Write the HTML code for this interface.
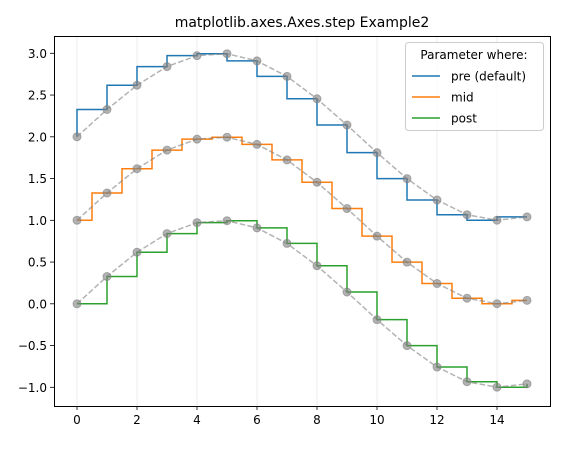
<!DOCTYPE html>
<html><head><meta charset="utf-8"><style>
body{margin:0;background:#fff}
svg{display:block;font-family:"DejaVu Sans","Liberation Sans",sans-serif}
</style></head><body>
<svg id="chart" width="581" height="449" xmlns="http://www.w3.org/2000/svg">
<rect width="581" height="449" fill="#fff"/>
<text x="302" y="27" font-size="14" text-anchor="middle">matplotlib.axes.Axes.step Example2</text>
<g id="grid"></g>
<g id="series"></g>
<rect x="54.5" y="36.5" width="496" height="370" fill="none" stroke="#000" stroke-width="1"/>
<g id="axes"></g>
<g id="legend"></g>
</svg>
<script>
const xValues=[0,1,2,3,4,5,6,7,8,9,10,11,12,13,14,15];
const baseValues=[0,0.327,0.618,0.841,0.972,0.995,0.909,0.723,0.455,0.141,-0.190,-0.501,-0.757,-0.933,-0.999,-0.959];
const seriesOffsets=[2,1,0];
const seriesLabels=["pre (default)","mid","post"];
const seriesWhere=["pre","mid","post"];
const xTicks=[0,2,4,6,8,10,12,14];
const yTicks=[-1.0,-0.5,0.0,0.5,1.0,1.5,2.0,2.5,3.0];
const colors=["#1f77b4","#ff7f0e","#2ca02c"];
const NS="http://www.w3.org/2000/svg";
const X=v=>77+v*30;
const Y=v=>53.3+(3-v)*83.5;
function mk(tag,attrs,parent){const e=document.createElementNS(NS,tag);for(const k in attrs)e.setAttribute(k,attrs[k]);parent.appendChild(e);return e;}
const grid=document.getElementById('grid'),axes=document.getElementById('axes'),ser=document.getElementById('series'),leg=document.getElementById('legend');
xTicks.forEach(t=>{
 const g=mk('line',{x1:X(t),x2:X(t),y1:37,y2:406,stroke:'#b0b0b0','stroke-width':0.8,'stroke-opacity':0.3},grid);
 
 
 const tk=mk('line',{x1:X(t),x2:X(t),y1:406,y2:410,stroke:'#000','stroke-width':0.8},axes);
 
 
 const tx=mk('text',{x:X(t),y:424,'font-size':12,'text-anchor':'middle'},axes);tx.textContent=t;
 
 
});
yTicks.forEach(t=>{
 const tk=mk('line',{x1:50,x2:54,y1:Y(t),y2:Y(t),stroke:'#000','stroke-width':0.8},axes);
 
 
 const tx=mk('text',{x:47,y:Y(t)+4.5,'font-size':12,'text-anchor':'end'},axes);tx.textContent=(t<0?'\u2212':'')+Math.abs(t).toFixed(1);
 
 
});
seriesOffsets.forEach((off,i)=>{
 const ys=baseValues.map(v=>v+off);
 let d='';
 const w=seriesWhere[i];
 if(w==='pre'){d='M'+X(xValues[0])+','+Y(ys[0]);for(let k=1;k<xValues.length;k++){d+=' L'+X(xValues[k-1])+','+Y(ys[k])+' L'+X(xValues[k])+','+Y(ys[k]);}}
 else if(w==='post'){d='M'+X(xValues[0])+','+Y(ys[0]);for(let k=1;k<xValues.length;k++){d+=' L'+X(xValues[k])+','+Y(ys[k-1])+' L'+X(xValues[k])+','+Y(ys[k]);}}
 else{d='M'+X(xValues[0])+','+Y(ys[0]);for(let k=1;k<xValues.length;k++){const m=(xValues[k-1]+xValues[k])/2;d+=' L'+X(m)+','+Y(ys[k-1])+' L'+X(m)+','+Y(ys[k]);}d+=' L'+X(xValues[xValues.length-1])+','+Y(ys[ys.length-1]);}
 const p=mk('path',{d:d,fill:'none',stroke:colors[i],'stroke-width':1.5},ser);
 
 
 const dl=mk('path',{d:'M'+xValues.map((x,k)=>X(x)+','+Y(ys[k])).join(' L'),fill:'none',stroke:'#808080','stroke-opacity':0.6,'stroke-width':1.5,'stroke-dasharray':'5.5,2.4'},ser);
 
 
 xValues.forEach((x,k)=>{
  const c=mk('circle',{cx:X(x),cy:Y(ys[k]),r:4,fill:'#808080','fill-opacity':0.6,stroke:'#808080','stroke-opacity':0.6},ser);
  
  
 });
});
const box=mk('rect',{x:405.5,y:42.5,width:138,height:88,rx:3,fill:'#fff','fill-opacity':0.8,stroke:'#ccc'},leg);


const lt=mk('text',{x:474,y:59,'font-size':12,'text-anchor':'middle'},leg);lt.textContent='Parameter where:';


seriesLabels.forEach((s,i)=>{
 const y=76+i*21;
 const l=mk('line',{x1:412,x2:440,y1:y,y2:y,stroke:colors[i],'stroke-width':1.5},leg);
 
 
 const t=mk('text',{x:451,y:y+4.5,'font-size':12},leg);t.textContent=s;
 
 
});
</script>
</body></html>
